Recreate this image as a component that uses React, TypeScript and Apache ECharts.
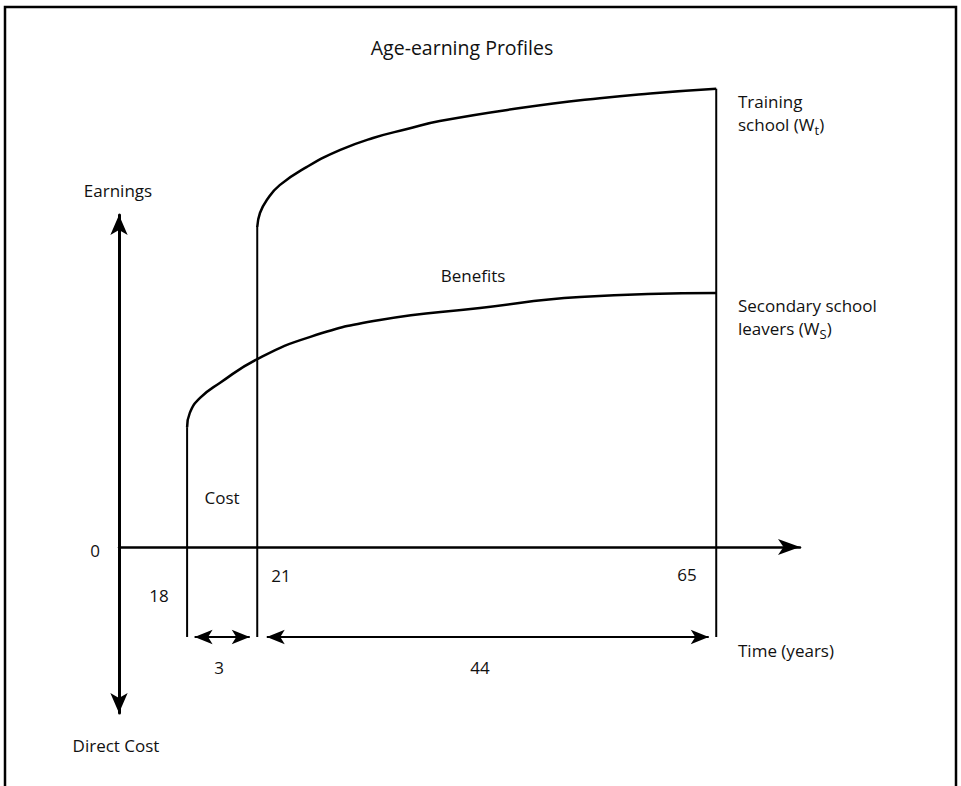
import React, { useEffect, useRef } from "react";
import * as echarts from "echarts";

// Schematic x positions (diagram units 0..100) and earnings (units, 0 = axis)
const ageLabels = ["18", "21", "65"];
const agePos = [10, 20.3, 87.7];

const trainingX = [20.3, 20.7, 21.7, 23.6, 27.6, 32.5, 37.3, 42.3, 47.1, 58.9, 70.6, 78.0, 87.7];
const trainingY = [96.4, 100.6, 104.5, 109.0, 114.5, 119.6, 123.2, 125.9, 128.3, 132.2, 135.2, 136.6, 138.0];

const secondaryX = [10, 10.4, 11.9, 14.8, 20.3, 28.1, 38.3, 53.0, 67.7, 87.7];
const secondaryY = [36.1, 40.4, 44.9, 49.4, 56.6, 63.3, 68.4, 72.0, 75.3, 76.5];

const dimensionY = -27.1;
const spanLabels = ["3", "44"];

const FONT = "'Open Sans', 'Noto Sans', sans-serif";
const FS = 17;

export default function App() {
  const ref = useRef<HTMLDivElement>(null);

  useEffect(() => {
    document.body.style.margin = "0";
    if (!ref.current) return;
    const chart = echarts.init(ref.current, undefined, { renderer: "svg" });

    const training = trainingX.map((x, i) => [x, trainingY[i]]);
    const secondary = secondaryX.map((x, i) => [x, secondaryY[i]]);
    const tops = [secondaryY[0], trainingY[0], trainingY[trainingY.length - 1]];
    const drops = agePos.map((x, i) => ({
      type: "line",
      data: [
        [x, tops[i]],
        [x, dimensionY],
      ],
      showSymbol: false,
      clip: false,
      silent: true,
      lineStyle: { color: "#000", width: 2 },
    }));

    const inset = 1.1;
    const txt = (x: number, y: number, text: string, extra: any = {}) => ({
      type: "text",
      x,
      y,
      style: {
        text,
        fontFamily: FONT,
        fontSize: FS,
        fill: "#111",
        textAlign: "center",
        textVerticalAlign: "middle",
        ...extra,
      },
    });
    const subText = (x: number, y: number, pre: string, sub: string) => ({
      type: "text",
      x,
      y,
      style: {
        text: `{n|${pre}}{s|${sub}}{n|)}`,
        fontFamily: FONT,
        fontSize: FS,
        fill: "#111",
        textAlign: "left",
        textVerticalAlign: "middle",
        rich: {
          n: { fontFamily: FONT, fontSize: FS, fill: "#111", lineHeight: 24, verticalAlign: "middle" },
          s: { fontFamily: FONT, fontSize: 13, fill: "#111", lineHeight: 24, verticalAlign: "bottom", padding: [7, 0, 0, 0] },
        },
      },
    });

    chart.setOption({
      animation: false,
      grid: { left: 119, right: 161, top: 215, bottom: 73 },
      xAxis: {
        type: "value",
        min: 0,
        max: 100,
        axisLine: {
          show: true,
          onZero: true,
          symbol: ["none", "arrow"],
          symbolSize: [12, 22],
          lineStyle: { color: "#000", width: 2.5 },
        },
        axisTick: { show: false },
        axisLabel: { show: false },
        splitLine: { show: false },
      },
      yAxis: {
        type: "value",
        min: -50,
        max: 100,
        axisLine: {
          show: true,
          symbol: ["arrow", "arrow"],
          symbolSize: [13, 20],
          lineStyle: { color: "#000", width: 3 },
        },
        axisTick: { show: false },
        axisLabel: { show: false },
        splitLine: { show: false },
      },
      series: [
        {
          type: "line",
          name: "Training school",
          data: training,
          smooth: 0.5,
          showSymbol: false,
          clip: false,
          lineStyle: { color: "#000", width: 2.5 },
        },
        {
          type: "line",
          name: "Secondary school leavers",
          data: secondary,
          smooth: 0.5,
          showSymbol: false,
          clip: false,
          lineStyle: { color: "#000", width: 2.5 },
        },
        ...drops,
        {
          type: "line",
          data: [],
          silent: true,
          markLine: {
            silent: true,
            symbol: ["arrow", "arrow"],
            symbolSize: [11, 18],
            label: { show: false },
            lineStyle: { color: "#000", width: 2, type: "solid" },
            data: [
              [
                { coord: [agePos[0] + inset, dimensionY] },
                { coord: [agePos[1] - inset, dimensionY] },
              ],
              [
                { coord: [agePos[1] + inset + 0.3, dimensionY] },
                { coord: [agePos[2] - inset, dimensionY] },
              ],
            ],
          },
        },
      ],
      graphic: [
        {
          type: "rect",
          shape: { x: 5, y: 7, width: 951, height: 800 },
          style: { fill: "none", stroke: "#000", lineWidth: 2.5 },
        },
        txt(462, 47, "Age-earning Profiles", { fontSize: 19.5 }),
        txt(118, 190, "Earnings"),
        txt(116, 745, "Direct Cost"),
        txt(95, 550, "0"),
        txt(159, 595, ageLabels[0]),
        txt(281, 575, ageLabels[1]),
        txt(687, 574, ageLabels[2]),
        txt(219, 667, spanLabels[0]),
        txt(480, 667, spanLabels[1]),
        txt(222, 497, "Cost"),
        txt(473, 275, "Benefits"),
        txt(738, 101, "Training", { textAlign: "left" }),
        subText(738, 124, "school (W", "t"),
        txt(738, 305, "Secondary school", { textAlign: "left" }),
        subText(738, 328, "leavers (W", "S"),
        txt(738, 650, "Time (years)", { textAlign: "left" }),
      ],
    });

    return () => chart.dispose();
  }, []);

  return <div ref={ref} style={{ width: 961, height: 786 }} />;
}
